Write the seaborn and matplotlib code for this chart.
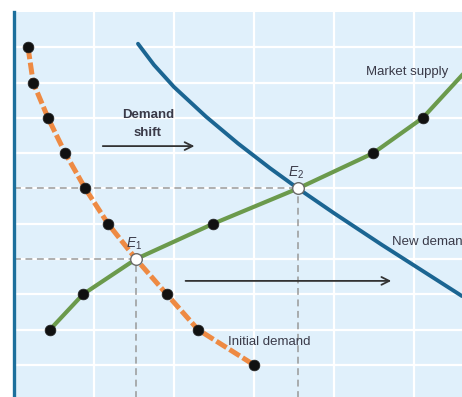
import matplotlib
matplotlib.use("Agg")
import matplotlib.pyplot as plt
import seaborn as sns
import pandas as pd

# Quantity / price pairs for each curve (one grid step = one unit)
initial_demand_q = [0.175, 0.24, 0.425, 0.64, 0.89, 1.175, 1.525, 1.91, 2.30, 3.0]
initial_demand_p = [10, 9, 8, 7, 6, 5, 4, 3, 2, 1]

supply_q = [0.45, 0.8625, 1.525, 2.49, 3.55, 4.49, 5.11, 5.80]
supply_p = [2, 3, 4, 5, 6, 7, 8, 9.7]
supply_marked = [True, True, False, True, False, True, True, False]

new_demand_q = [1.55, 1.75, 2.0, 2.4, 2.8, 3.2, 3.55, 4.0, 4.6, 5.6]
new_demand_p = [10.1, 9.5, 8.875, 8.035, 7.275, 6.575, 6.0, 5.30, 4.40, 2.95]

equilibrium_names = ["$E_1$", "$E_2$"]
equilibrium_q = [1.525, 3.55]
equilibrium_p = [4, 6]

BG = "#e0f0fb"
TEXT = "#3a3a48"
ORANGE = "#ee8a43"
GREEN = "#6b9a4c"
BLUE = "#1b6592"

sns.set_style("white")
plt.rcParams["font.family"] = ["Liberation Sans", "DejaVu Sans"]
plt.rcParams["mathtext.fontset"] = "custom"
plt.rcParams["mathtext.it"] = "Liberation Sans:italic"
plt.rcParams["mathtext.rm"] = "Liberation Sans"

fig = plt.figure(figsize=(4.62, 3.97), dpi=100)
ax = fig.add_axes([14 / 462, 0, 448 / 462, 385 / 397])
ax.set_facecolor(BG)
ax.set_xlim(0, 448 / 80)
ax.set_ylim(0.09, 11)

# white grid
ax.set_xticks([1, 2, 3, 4, 5])
ax.set_yticks(list(range(1, 11)))
ax.grid(True, color="white", lw=1.6)
ax.set_axisbelow(True)
ax.tick_params(length=0, labelbottom=False, labelleft=False)
for side in ["top", "right", "bottom"]:
    ax.spines[side].set_visible(False)
ax.spines["left"].set_color("#1c6f9c")
ax.spines["left"].set_linewidth(2.4)

# equilibrium reference lines
for q, p in zip(equilibrium_q, equilibrium_p):
    ax.plot([0, q], [p, p], color="#999999", lw=1.1, dashes=(4.5, 3), zorder=2)
    ax.plot([q, q], [0, p], color="#999999", lw=1.1, dashes=(4.5, 3), zorder=2)

# new demand
sns.lineplot(x=new_demand_q, y=new_demand_p, color=BLUE, lw=2.8,
             estimator=None, sort=False, ax=ax, zorder=3)
ax.lines[-1].set_solid_joinstyle("round")

# market supply
sns.lineplot(x=supply_q, y=supply_p, color=GREEN, lw=3.0,
             estimator=None, sort=False, ax=ax, zorder=3)
ax.lines[-1].set_solid_joinstyle("round")
sup = pd.DataFrame({"q": supply_q, "p": supply_p, "m": supply_marked})
sup = sup[sup["m"]]
sns.scatterplot(data=sup, x="q", y="p", color="#111111", s=60,
                linewidth=0.5, edgecolor="#222222", ax=ax, zorder=6)

# initial demand
sns.lineplot(x=initial_demand_q, y=initial_demand_p, color=ORANGE, lw=3.6,
             estimator=None, sort=False, ax=ax, zorder=4)
ax.lines[-1].set_dashes((2.4, 0.7))
dem = pd.DataFrame({"q": initial_demand_q, "p": initial_demand_p})
dem = dem[~dem["q"].isin(equilibrium_q)]
sns.scatterplot(data=dem, x="q", y="p", color="#111111", s=60,
                linewidth=0.5, edgecolor="#222222", ax=ax, zorder=6)

# equilibrium points
sns.scatterplot(x=equilibrium_q, y=equilibrium_p, color="white", s=70,
                linewidth=1.0, edgecolor="#6a6a6a", ax=ax, zorder=7)
for name, q, p in zip(equilibrium_names, equilibrium_q, equilibrium_p):
    ax.text(q - 0.02, p + 0.2, name, ha="center", va="bottom",
            fontsize=10, color=TEXT, zorder=8)

# labels
ax.text(4.91, 9.29, "Market supply", ha="center", va="center",
        fontsize=9.5, color=TEXT)
ax.text(4.72, 4.48, "New demand", ha="left", va="center",
        fontsize=9.5, color=TEXT, clip_on=True)
ax.text(2.68, 1.65, "Initial demand", ha="left", va="center",
        fontsize=9.5, color=TEXT)
ax.text(1.675, 8.07, "Demand", ha="center", va="center",
        fontsize=9.5, fontweight="bold", color=TEXT)
ax.text(1.675, 7.57, "shift", ha="center", va="center",
        fontsize=9.5, fontweight="bold", color=TEXT)

# shift arrows
arrow = dict(arrowstyle="->", color="#333333", lw=1.3, mutation_scale=14)
ax.annotate("", xy=(2.29, 7.2), xytext=(1.075, 7.2), arrowprops=arrow)
ax.annotate("", xy=(4.75, 3.38), xytext=(2.11, 3.38), arrowprops=arrow)

fig.savefig("out.png", dpi=100, facecolor="white")
